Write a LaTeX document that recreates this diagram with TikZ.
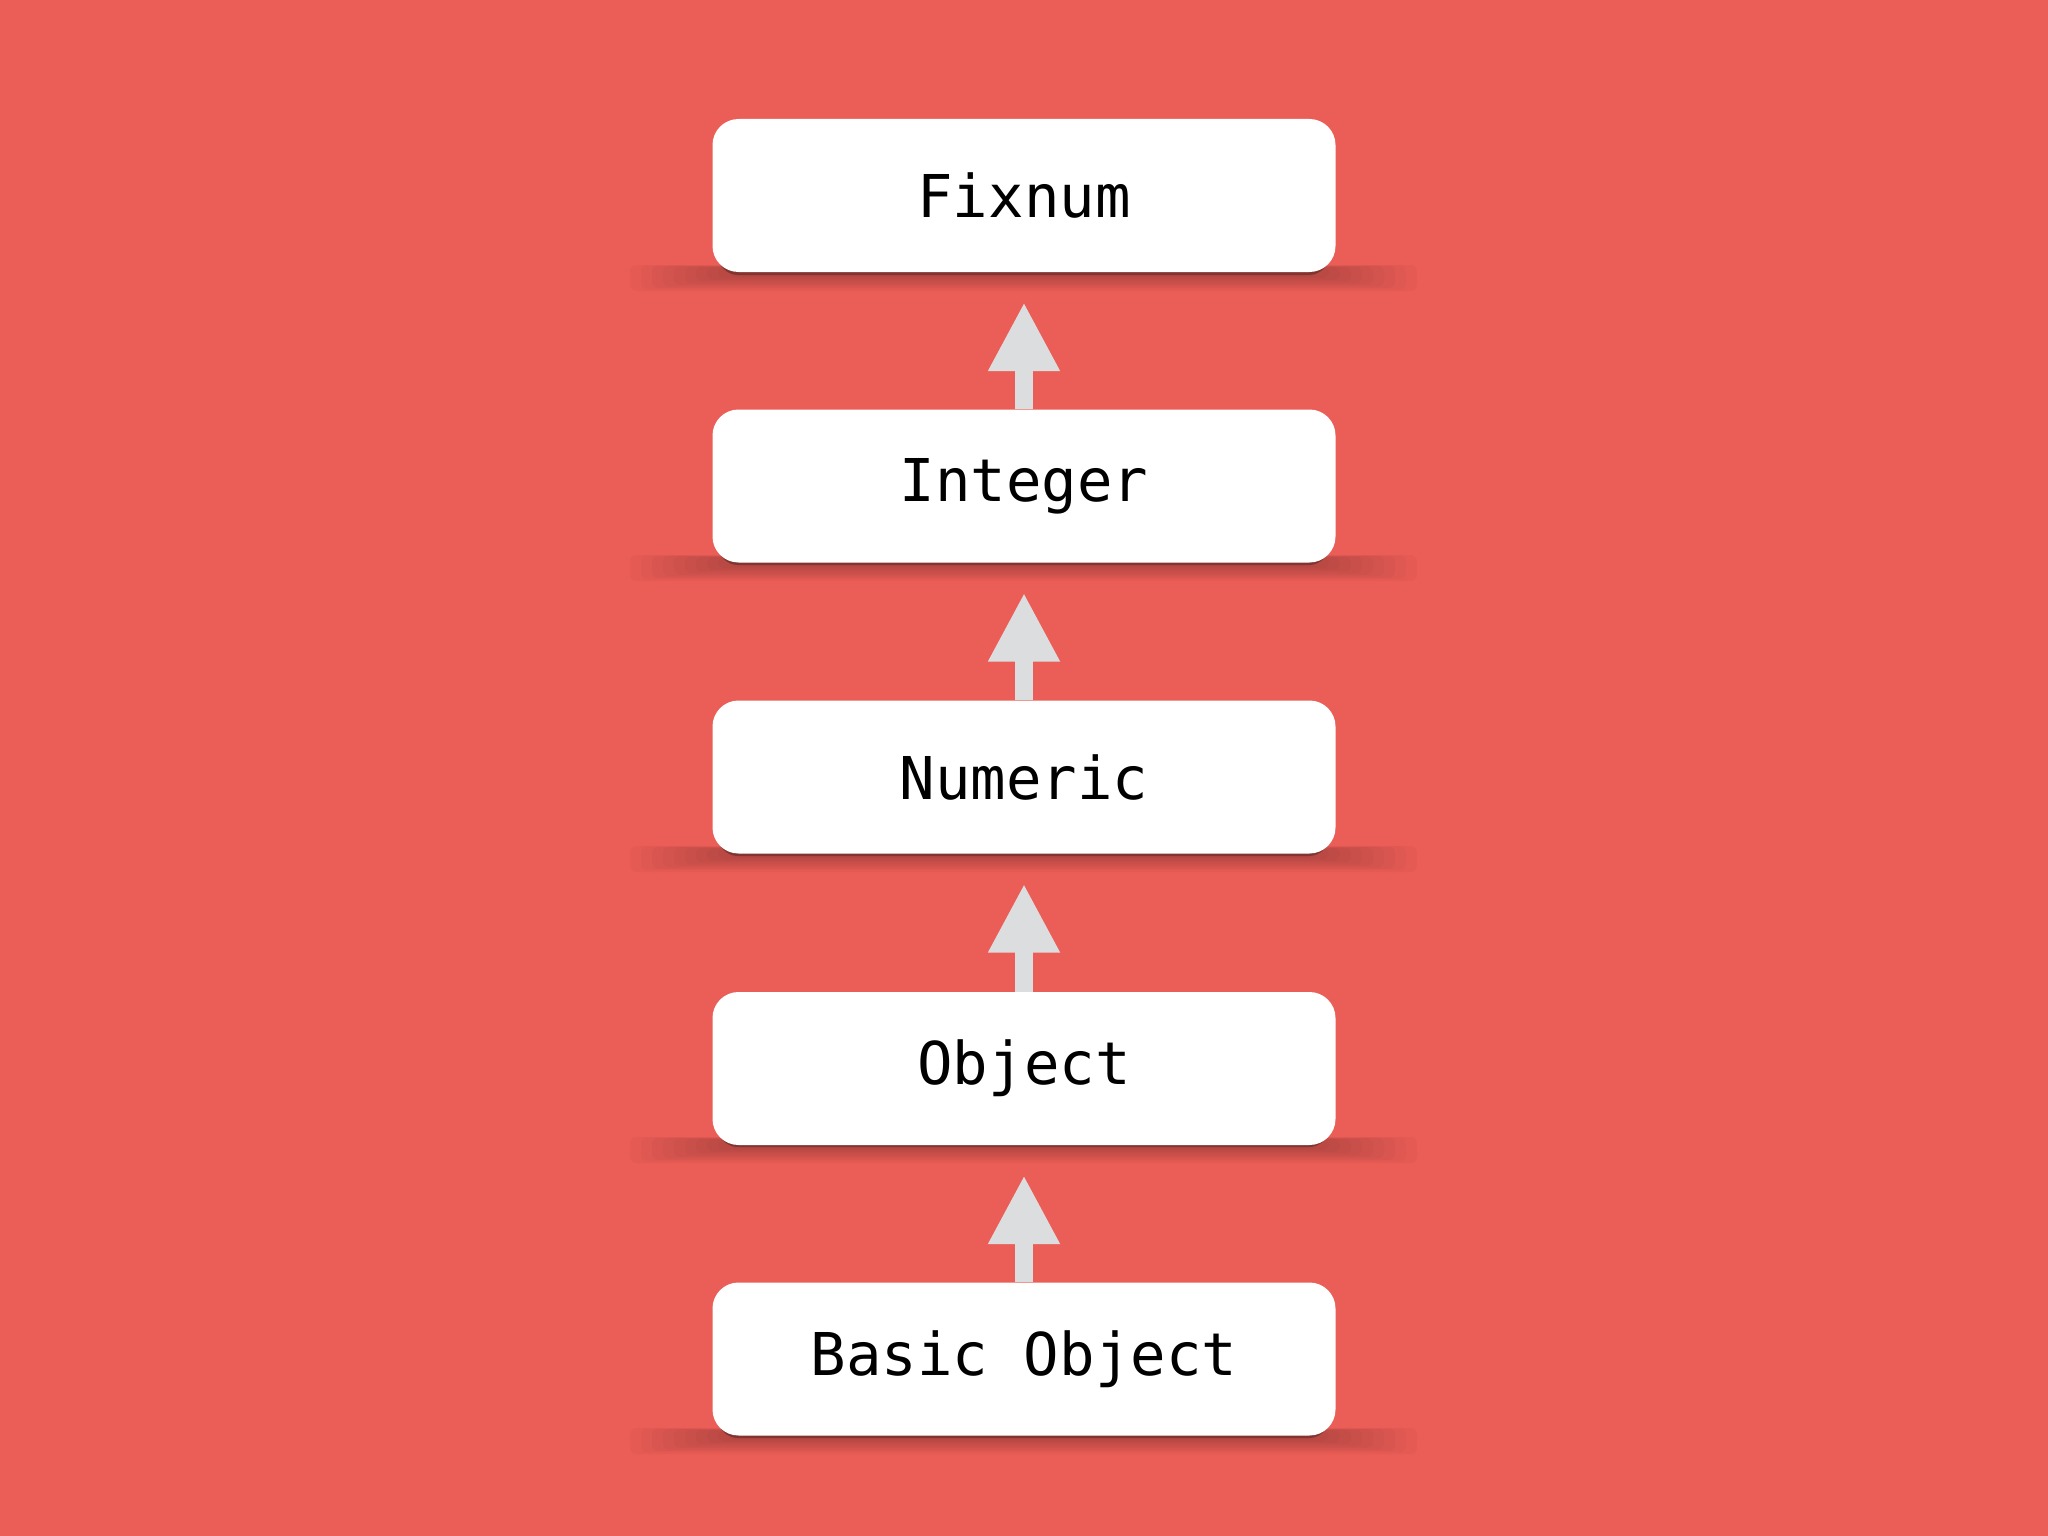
\documentclass[tikz,border=0pt]{standalone}
\usepackage{fontspec}
\setmonofont{DejaVu Sans Mono}
\usetikzlibrary{arrows.meta}
\definecolor{bg}{RGB}{235,94,87}
\definecolor{arrgray}{RGB}{220,221,223}
\tikzset{
  classbox/.style={fill=white, rounded corners=26pt, minimum width=623pt, minimum height=153pt,
    inner sep=0pt, font=\ttfamily\fontsize{59}{70}\selectfont, text=black},
  inherit/.style={draw=arrgray, line width=18pt, -{Triangle[width=67pt,length=69pt]}},
}
\begin{document}
\begin{tikzpicture}[x=1pt,y=-1pt]
\fill[bg] (0,0) rectangle (2048,1536);
\useasboundingbox (0,0) rectangle (2048,1536);
% soft shadows under boxes
\foreach \b in {272,562,853,1144,1435}{
  \foreach \i in {1,...,10}{
    \fill[black, opacity=0.022, rounded corners=6pt]
      (740-11*\i, \b-4-0.3*\i) rectangle (1307+11*\i, \b+3+1.6*\i);
  }
  \fill[black!45!bg, rounded corners=20pt] (718,\b-30) rectangle (1329,\b+3);
}
\node[classbox] (fix) at (1024,195.5) {Fixnum};
\node[classbox] (int) at (1024,486) {Integer};
\node[classbox] (num) at (1024,777) {Numeric};
\node[classbox] (obj) at (1024,1068.5) {Object};
\node[classbox] (bas) at (1024,1359) {Basic Object};
\draw[inherit] (int.north) -- ([yshift=-30pt]fix.south);
\draw[inherit] (num.north) -- ([yshift=-30pt]int.south);
\draw[inherit] (obj.north) -- ([yshift=-30pt]num.south);
\draw[inherit] (bas.north) -- ([yshift=-30pt]obj.south);
\end{tikzpicture}
\end{document}
